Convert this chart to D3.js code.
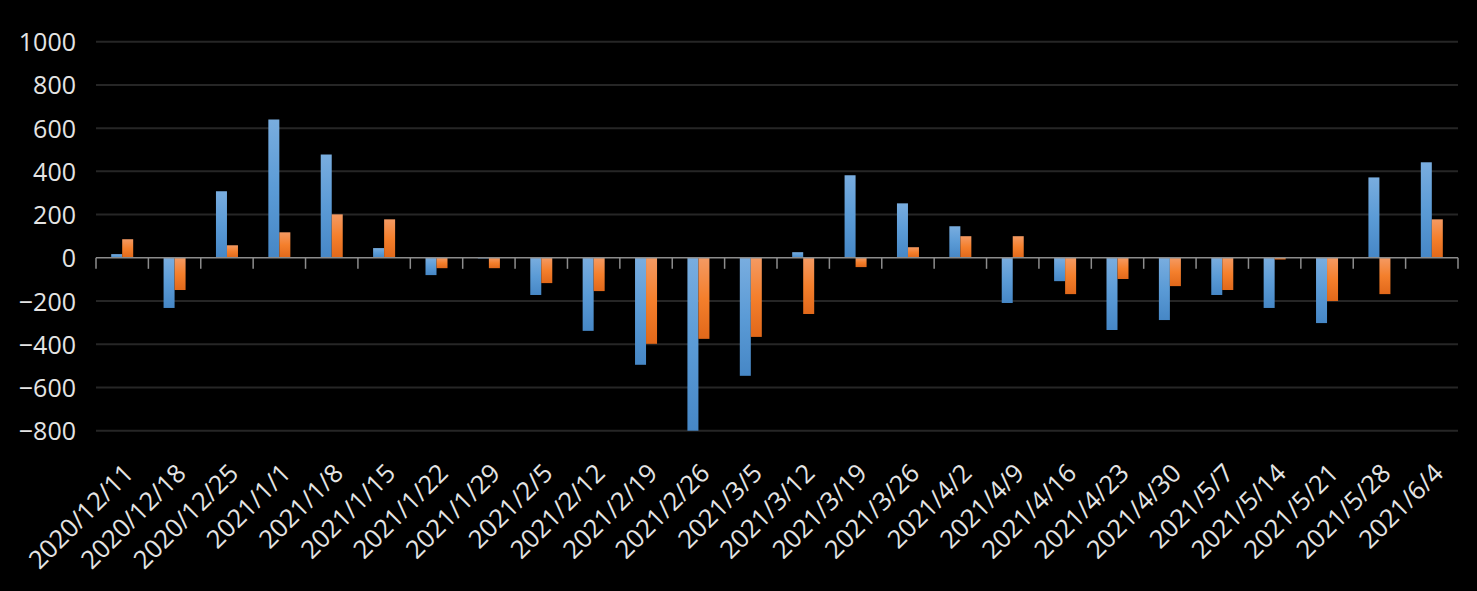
<!DOCTYPE html>
<html>
<head>
<meta charset="utf-8">
<script src="https://cdn.jsdelivr.net/npm/d3@7"></script>
<style>
  html, body { margin: 0; padding: 0; background: #000; }
  svg { display: block; }
</style>
</head>
<body>
<svg id="chart" width="1477" height="591"></svg>
<script>
const categories = ["2020/12/11","2020/12/18","2020/12/25","2021/1/1","2021/1/8","2021/1/15","2021/1/22","2021/1/29","2021/2/5","2021/2/12","2021/2/19","2021/2/26","2021/3/5","2021/3/12","2021/3/19","2021/3/26","2021/4/2","2021/4/9","2021/4/16","2021/4/23","2021/4/30","2021/5/7","2021/5/14","2021/5/21","2021/5/28","2021/6/4"];
const seriesBlue = [17,-232,308,640,478,45,-80,-3,-172,-338,-495,-800,-546,26,382,252,146,-209,-108,-334,-288,-172,-232,-302,372,442];
const seriesOrange = [86,-149,58,118,201,178,-48,-48,-117,-154,-398,-375,-366,-260,-43,49,100,100,-168,-98,-131,-149,-8,-200,-168,178];
const yTicks = [-800,-600,-400,-200,0,200,400,600,800,1000];

const svg = d3.select("#chart");
const W = 1477, H = 591;
const plotL = 96, plotR = 1458, yTop = 41.7, yBot = 430.7;

const y = d3.scaleLinear().domain([-800, 1000]).range([yBot, yTop]);
const x = d3.scaleBand().domain(categories).range([plotL, plotR]).paddingInner(0).paddingOuter(0);
const step = x.step();
const inner = d3.scaleBand().domain(["blue","orange"]).range([step*0.29, step*0.71]).padding(0);

// gradients
const defs = svg.append("defs");
function grad(id, stops) {
  const g = defs.append("linearGradient").attr("id", id)
    .attr("x1", 0).attr("y1", 0).attr("x2", 0).attr("y2", 1);
  stops.forEach(s => g.append("stop").attr("offset", s[0]).attr("stop-color", s[1]));
}
grad("gBlue", [["0%","#79addf"],["50%","#5b9bd6"],["100%","#4687c6"]]);
grad("gOrange", [["0%","#f49a63"],["50%","#f47f2c"],["100%","#e1681a"]]);

svg.append("rect").attr("width", W).attr("height", H).attr("fill", "#000");

// gridlines
svg.append("g").selectAll("line").data(yTicks.filter(d => d !== 0)).join("line")
  .attr("x1", plotL).attr("x2", plotR)
  .attr("y1", d => y(d)).attr("y2", d => y(d))
  .attr("stroke", "#262626").attr("stroke-width", 2);

// y axis labels
const yAxis = d3.axisLeft(y).tickValues(yTicks).tickSize(0).tickPadding(0).tickFormat(d3.format("d"));
const yg = svg.append("g").attr("transform", "translate(76,0)").call(yAxis);
yg.select(".domain").remove();
yg.selectAll("text")
  .attr("fill", "#e4e4e4")
  .style("font-family", "'Open Sans', sans-serif")
  .style("font-size", "25px")
  .attr("dy", "0.36em");

// bars
const data = categories.map((c, i) => ({c, blue: seriesBlue[i], orange: seriesOrange[i]}));
const keys = ["blue", "orange"];
const fills = {blue: "url(#gBlue)", orange: "url(#gOrange)"};
svg.append("g").selectAll("g").data(data).join("g")
  .attr("transform", d => `translate(${x(d.c)},0)`)
  .selectAll("rect").data(d => keys.map(k => ({k, v: d[k]}))).join("rect")
  .attr("x", d => inner(d.k))
  .attr("width", inner.bandwidth())
  .attr("y", d => y(Math.max(0, d.v)))
  .attr("height", d => Math.max(0.5, Math.abs(y(d.v) - y(0))))
  .attr("fill", d => fills[d.k]);

// zero axis with category ticks
const y0 = y(0);
svg.append("line").attr("x1", plotL).attr("x2", plotR).attr("y1", y0).attr("y2", y0)
  .attr("stroke", "#8c8c8c").attr("stroke-width", 1.5);
const bounds = categories.map(c => x(c)).concat([plotR]);
svg.append("g").selectAll("line").data(bounds).join("line")
  .attr("x1", d => d).attr("x2", d => d)
  .attr("y1", y0).attr("y2", y0 + 11)
  .attr("stroke", "#8c8c8c").attr("stroke-width", 1.5);

// x labels
const xAxis = d3.axisBottom(x).tickSize(0).tickPadding(0);
const xg = svg.append("g").attr("transform", `translate(0,${y0})`).call(xAxis);
xg.select(".domain").remove();
xg.selectAll("text")
  .attr("fill", "#e4e4e4")
  .style("font-family", "'Open Sans', sans-serif")
  .style("font-size", "25.5px")
  .attr("text-anchor", "end")
  .attr("dy", 0)
  .attr("y", 0)
  .attr("transform", "translate(13,217) rotate(-45)");
</script>
</body>
</html>
